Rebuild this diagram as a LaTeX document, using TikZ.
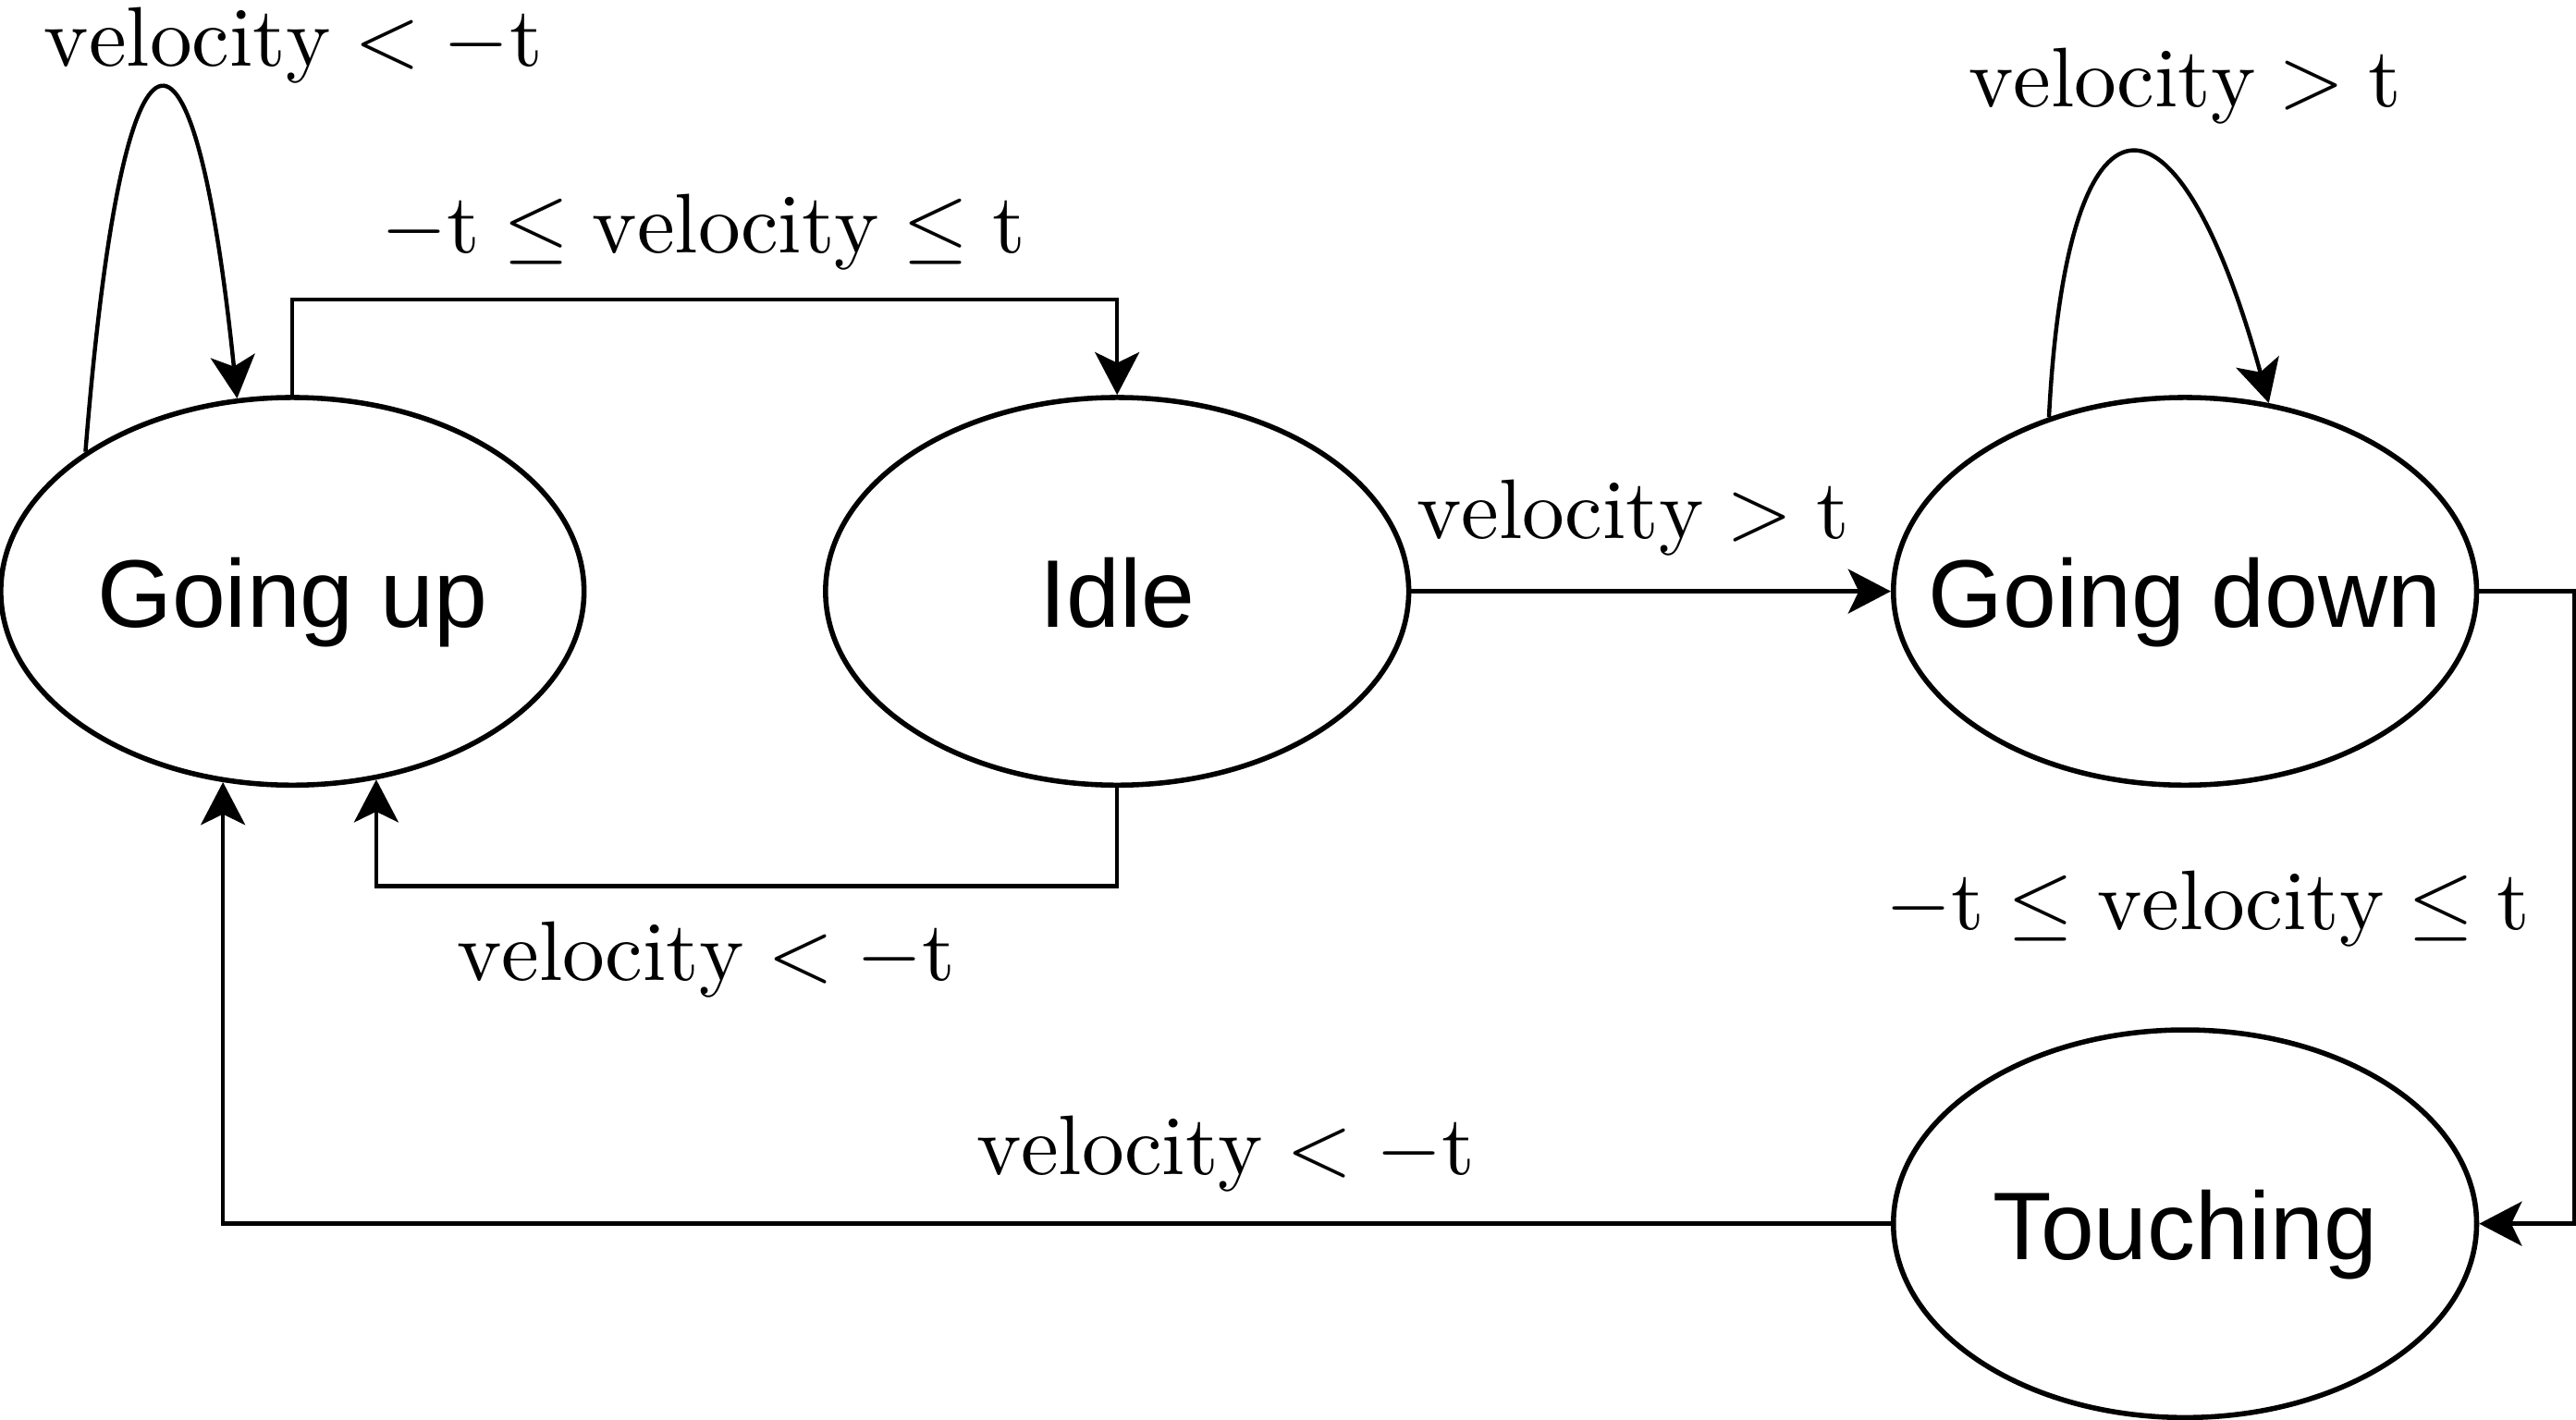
\documentclass[tikz,border=0pt]{standalone}
\usepackage{fontspec}
\setsansfont{Liberation Sans}
\usetikzlibrary{arrows.meta,shapes.geometric}

\begin{document}
\begin{tikzpicture}
    [x=0.4pt, y=-0.4pt,
    >={Stealth[length=10.4pt,width=10.8pt,inset=2.6pt]},
    state/.style={ellipse,draw,line width=1.25pt,inner xsep=-30pt,inner ysep=0pt,
        minimum width=142pt,minimum height=94.4pt,
        text height=17.6pt,text depth=0pt,
        font=\sffamily\fontsize{23.4}{28}\selectfont},
    conn/.style={->,line width=1pt},
    cond/.style={anchor=base,inner sep=0pt,scale=2.06,font=\normalsize},
    ]
    \useasboundingbox (0,0) rectangle (1568,864);

    % states
    \node[state] (up) at (178,360) {Going up};
    \node[state] (idle) at (680,360) {Idle};
    \node[state] (down) at (1330,360) {Going down};
    \node[state] (touch) at (1330,745) {Touching};

    % transitions
    \draw[conn] (up.146) .. controls (75,-13) and (118,-13) .. (up.106.7);
    \draw[conn] (up.north) -- ++(0,-58) -| (idle.north);
    \draw[conn] (idle.south) -- ++(0,60) -| (up.294.3);
    \draw[conn] (idle.east) -- (down.west);
    \draw[conn] (down.128.3) .. controls (1258,42) and (1325,42) .. (down.66.7);
    \draw[conn] (down.east) -- ++(58,0) |- (touch.east);
    \draw[conn] (touch.west) -| (up.250.35);

    % conditions
    \node[cond] (c-upup) at (178.5,40) {$\mathrm{velocity} < -\mathrm{t}$};
    \node[cond] (c-upidle) at (428,154) {$-\mathrm{t} \leq \mathrm{velocity} \leq \mathrm{t}$};
    \node[cond] (c-idleup) at (430,597) {$\mathrm{velocity} < -\mathrm{t}$};
    \node[cond] (c-idledown) at (994,328) {$\mathrm{velocity} > \mathrm{t}$};
    \node[cond] (c-downdown) at (1330,65) {$\mathrm{velocity} > \mathrm{t}$};
    \node[cond] (c-downtouch) at (1344,566) {$-\mathrm{t} \leq \mathrm{velocity} \leq \mathrm{t}$};
    \node[cond] (c-touchup) at (746,715) {$\mathrm{velocity} < -\mathrm{t}$};
\end{tikzpicture}
\end{document}
